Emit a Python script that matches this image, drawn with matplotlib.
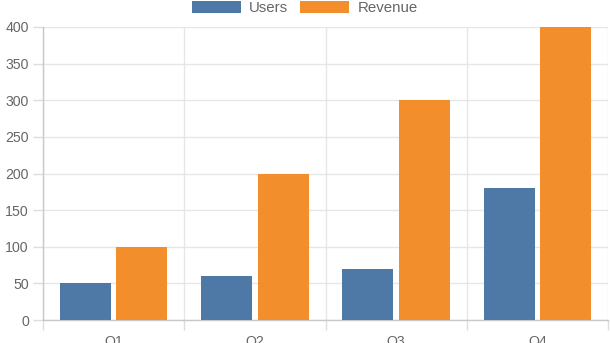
import matplotlib.pyplot as plt
import numpy as np

# Chart data
quarters = ["Q1", "Q2", "Q3", "Q4"]
users = [50, 60, 70, 180]
revenue = [100, 200, 300, 400]

plt.rcParams['font.family'] = ['Liberation Sans', 'DejaVu Sans']

fig = plt.figure(figsize=(6.1, 3.43), dpi=100)
ax = fig.add_axes([43 / 610, 23 / 343, 565 / 610, 293 / 343])

x = np.arange(len(quarters))
bar_w = 0.36
ax.bar(x - 0.2, users, width=bar_w, color="#4e79a7", label="Users", zorder=3)
ax.bar(x + 0.2, revenue, width=bar_w, color="#f28e2b", label="Revenue", zorder=3)

ax.set_xlim(-0.5, 3.5)
ax.set_ylim(0, 400)
ax.set_yticks(range(0, 401, 50))

# category labels at centres, grid/tick marks at boundaries
ax.set_xticks(x)
ax.set_xticklabels(quarters)
ax.set_xticks(np.arange(-0.5, 4.0, 1.0), minor=True)
ax.tick_params(axis="x", which="major", length=0, pad=10.5, labelsize=10.2, labelcolor="#666666")
ax.tick_params(axis="x", which="minor", length=7.2, color="#dddddd", width=1)
ax.tick_params(axis="y", length=7.2, color="#dddddd", width=1, pad=3,
               labelsize=10.2, labelcolor="#666666")

ax.grid(axis="y", color="#e6e6e6", linewidth=1, zorder=0)
ax.grid(axis="x", which="minor", color="#e6e6e6", linewidth=1, zorder=0)

for side in ["top", "right"]:
    ax.spines[side].set_visible(False)
for side in ["left", "bottom"]:
    ax.spines[side].set_color("#c8c8c8")
    ax.spines[side].set_linewidth(1)
ax.spines["left"].set_zorder(4)

fig.legend(loc="center", bbox_to_anchor=(0.5, 1 - 8 / 343), ncol=2, frameon=False,
           fontsize=10.8, labelcolor="#666666", handlelength=3.27, handleheight=0.93,
           handletextpad=0.55, columnspacing=0.8, borderpad=0)

fig.savefig("out.png", dpi=100)
